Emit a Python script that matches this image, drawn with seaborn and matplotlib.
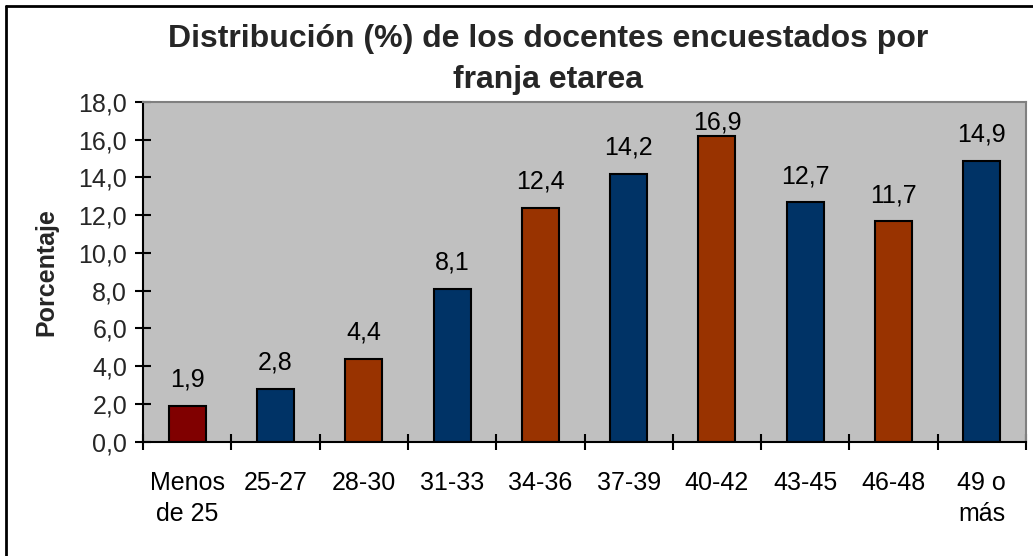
import matplotlib
matplotlib.use("Agg")
import matplotlib.pyplot as plt
import seaborn as sns
import pandas as pd
from matplotlib.lines import Line2D
from matplotlib.ticker import FixedLocator, FuncFormatter

sns.set_theme(style="white")
plt.rcParams['font.family'] = ['Liberation Sans', 'DejaVu Sans']

categories = ["Menos\nde 25", "25-27", "28-30", "31-33", "34-36",
              "37-39", "40-42", "43-45", "46-48", "49 o\nmás"]
values = [1.9, 2.8, 4.4, 8.1, 12.4, 14.2, 16.2, 12.7, 11.7, 14.9]
value_labels = ["1,9", "2,8", "4,4", "8,1", "12,4", "14,2", "16,9", "12,7", "11,7", "14,9"]
bar_colors = ["#800000", "#003366", "#993300", "#003366", "#993300",
              "#003366", "#993300", "#003366", "#993300", "#003366"]
yticks = [0, 2, 4, 6, 8, 10, 12, 14, 16, 18]

df = pd.DataFrame({"cat": categories, "val": values})

W, H = 1033, 556
fig = plt.figure(figsize=(W / 100, H / 100), dpi=100)
ax = fig.add_axes([143 / W, 1 - 441.7 / H, (1026 - 143) / W, (441.7 - 102) / H])
ax.set_facecolor("#C0C0C0")

sns.barplot(data=df, x="cat", y="val", hue="cat", palette=bar_colors,
            legend=False, width=0.42, edgecolor="black", linewidth=1.5,
            saturation=1, ax=ax)

ax.set_ylim(0, 18)
ax.set_xlim(-0.5, len(categories) - 0.5)
ax.set_yticks(yticks)
ax.yaxis.set_major_formatter(FuncFormatter(lambda v, p: f"{v:.1f}".replace(".", ",")))

ax.xaxis.set_minor_locator(FixedLocator([i - 0.5 for i in range(len(categories) + 1)]))
ax.tick_params(axis="x", which="major", length=0, pad=21, labelsize=18, colors="black")
ax.tick_params(axis="x", which="minor", length=11, width=1.5, direction="inout", color="black")
ax.tick_params(axis="y", which="major", length=11, width=1.5, direction="inout",
               pad=6, labelsize=18, color="black", left=True)
ax.tick_params(axis="x", which="minor", bottom=True)
plt.setp(ax.get_xticklabels(), linespacing=1.4)

ax.set_xlabel("")
ax.set_ylabel("Porcentaje", fontsize=18, fontweight="bold", labelpad=14)

for side in ["left", "bottom"]:
    ax.spines[side].set_color("black")
    ax.spines[side].set_linewidth(1.5)
for side in ["top", "right"]:
    ax.spines[side].set_color("#808080")
    ax.spines[side].set_linewidth(1.5)

for i, cont in enumerate(ax.containers):
    pad = 10 if values[i] < 16 else 1
    ax.bar_label(cont, labels=[value_labels[i]], padding=pad, fontsize=18, color="black")

fig.text(548 / W, 1 - 47 / H, "Distribución (%) de los docentes encuestados por",
         ha="center", va="baseline", fontsize=23, fontweight="bold")
fig.text(548 / W, 1 - 88 / H, "franja etarea",
         ha="center", va="baseline", fontsize=23, fontweight="bold")

fig.add_artist(Line2D([6 / W, 1], [1 - 6 / H, 1 - 6 / H], color="black", lw=2))
fig.add_artist(Line2D([6 / W, 6 / W], [0, 1 - 6 / H], color="black", lw=2))

fig.savefig("out.png", dpi=100)
